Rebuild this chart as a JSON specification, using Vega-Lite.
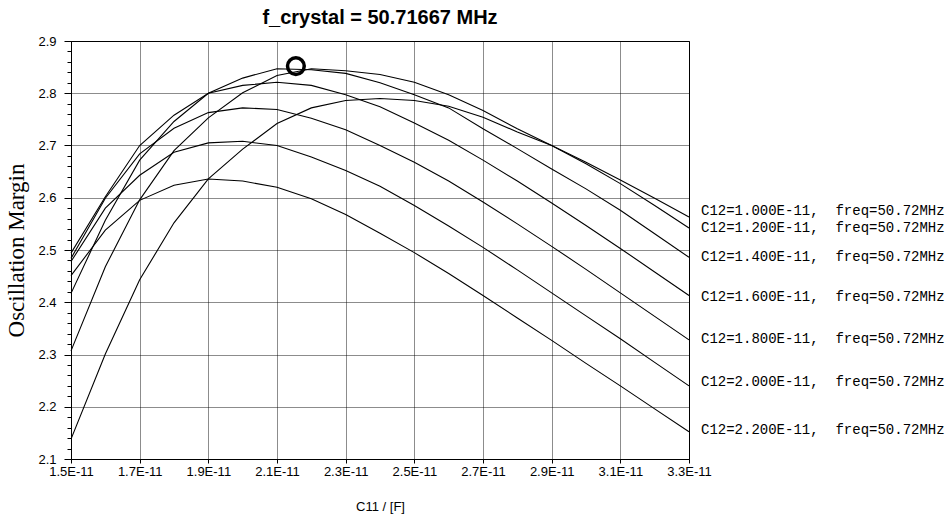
{
"$schema": "https://vega.github.io/schema/vega-lite/v6.json",
"width": 618, "height": 418,
"autosize": {"type": "none"},
"padding": {"left": 71, "top": 41, "right": 257, "bottom": 59},
"background": "white",
"title": {"text": "f_crystal = 50.71667 MHz", "font": "Liberation Sans", "fontSize": 20, "fontWeight": "bold", "color": "black", "anchor": "middle", "offset": 7},
"config": {
  "view": {"stroke": "black", "strokeWidth": 1},
  "axis": {"labelFont": "Liberation Sans", "labelFontSize": 13, "labelColor": "black", "domainColor": "black", "tickColor": "black", "gridColor": "black", "gridDash": [1, 1], "gridOpacity": 0.9, "titleColor": "black", "titleFontWeight": "normal"}
},
"datasets": {
"curves": [
{"c12":1.0,"c11":1.5,"m":2.138},{"c12":1.0,"c11":1.6,"m":2.301},{"c12":1.0,"c11":1.7,"m":2.443},{"c12":1.0,"c11":1.8,"m":2.552},{"c12":1.0,"c11":1.9,"m":2.636},{"c12":1.0,"c11":2.0,"m":2.693},{"c12":1.0,"c11":2.1,"m":2.742},{"c12":1.0,"c11":2.2,"m":2.772},{"c12":1.0,"c11":2.3,"m":2.786},{"c12":1.0,"c11":2.4,"m":2.790},{"c12":1.0,"c11":2.5,"m":2.786},{"c12":1.0,"c11":2.6,"m":2.775},{"c12":1.0,"c11":2.7,"m":2.754},{"c12":1.0,"c11":2.8,"m":2.726},{"c12":1.0,"c11":2.9,"m":2.700},{"c12":1.0,"c11":3.0,"m":2.668},{"c12":1.0,"c11":3.1,"m":2.634},{"c12":1.0,"c11":3.2,"m":2.599},{"c12":1.0,"c11":3.3,"m":2.563},
{"c12":1.2,"c11":1.5,"m":2.307},{"c12":1.2,"c11":1.6,"m":2.468},{"c12":1.2,"c11":1.7,"m":2.596},{"c12":1.2,"c11":1.8,"m":2.690},{"c12":1.2,"c11":1.9,"m":2.753},{"c12":1.2,"c11":2.0,"m":2.801},{"c12":1.2,"c11":2.1,"m":2.834},{"c12":1.2,"c11":2.2,"m":2.847},{"c12":1.2,"c11":2.3,"m":2.843},{"c12":1.2,"c11":2.4,"m":2.836},{"c12":1.2,"c11":2.5,"m":2.821},{"c12":1.2,"c11":2.6,"m":2.797},{"c12":1.2,"c11":2.7,"m":2.767},{"c12":1.2,"c11":2.8,"m":2.732},{"c12":1.2,"c11":2.9,"m":2.700},{"c12":1.2,"c11":3.0,"m":2.665},{"c12":1.2,"c11":3.1,"m":2.627},{"c12":1.2,"c11":3.2,"m":2.585},{"c12":1.2,"c11":3.3,"m":2.542},
{"c12":1.4,"c11":1.5,"m":2.417},{"c12":1.4,"c11":1.6,"m":2.557},{"c12":1.4,"c11":1.7,"m":2.672},{"c12":1.4,"c11":1.8,"m":2.746},{"c12":1.4,"c11":1.9,"m":2.800},{"c12":1.4,"c11":2.0,"m":2.829},{"c12":1.4,"c11":2.1,"m":2.847},{"c12":1.4,"c11":2.2,"m":2.845},{"c12":1.4,"c11":2.3,"m":2.838},{"c12":1.4,"c11":2.4,"m":2.820},{"c12":1.4,"c11":2.5,"m":2.797},{"c12":1.4,"c11":2.6,"m":2.772},{"c12":1.4,"c11":2.7,"m":2.732},{"c12":1.4,"c11":2.8,"m":2.694},{"c12":1.4,"c11":2.9,"m":2.655},{"c12":1.4,"c11":3.0,"m":2.617},{"c12":1.4,"c11":3.1,"m":2.576},{"c12":1.4,"c11":3.2,"m":2.531},{"c12":1.4,"c11":3.3,"m":2.486},
{"c12":1.6,"c11":1.5,"m":2.494},{"c12":1.6,"c11":1.6,"m":2.602},{"c12":1.6,"c11":1.7,"m":2.700},{"c12":1.6,"c11":1.8,"m":2.758},{"c12":1.6,"c11":1.9,"m":2.800},{"c12":1.6,"c11":2.0,"m":2.815},{"c12":1.6,"c11":2.1,"m":2.821},{"c12":1.6,"c11":2.2,"m":2.815},{"c12":1.6,"c11":2.3,"m":2.797},{"c12":1.6,"c11":2.4,"m":2.774},{"c12":1.6,"c11":2.5,"m":2.743},{"c12":1.6,"c11":2.6,"m":2.710},{"c12":1.6,"c11":2.7,"m":2.672},{"c12":1.6,"c11":2.8,"m":2.632},{"c12":1.6,"c11":2.9,"m":2.590},{"c12":1.6,"c11":3.0,"m":2.547},{"c12":1.6,"c11":3.1,"m":2.503},{"c12":1.6,"c11":3.2,"m":2.458},{"c12":1.6,"c11":3.3,"m":2.413},
{"c12":1.8,"c11":1.5,"m":2.484},{"c12":1.8,"c11":1.6,"m":2.599},{"c12":1.8,"c11":1.7,"m":2.684},{"c12":1.8,"c11":1.8,"m":2.733},{"c12":1.8,"c11":1.9,"m":2.763},{"c12":1.8,"c11":2.0,"m":2.772},{"c12":1.8,"c11":2.1,"m":2.769},{"c12":1.8,"c11":2.2,"m":2.752},{"c12":1.8,"c11":2.3,"m":2.730},{"c12":1.8,"c11":2.4,"m":2.700},{"c12":1.8,"c11":2.5,"m":2.668},{"c12":1.8,"c11":2.6,"m":2.632},{"c12":1.8,"c11":2.7,"m":2.592},{"c12":1.8,"c11":2.8,"m":2.550},{"c12":1.8,"c11":2.9,"m":2.507},{"c12":1.8,"c11":3.0,"m":2.463},{"c12":1.8,"c11":3.1,"m":2.418},{"c12":1.8,"c11":3.2,"m":2.373},{"c12":1.8,"c11":3.3,"m":2.328},
{"c12":2.0,"c11":1.5,"m":2.478},{"c12":2.0,"c11":1.6,"m":2.580},{"c12":2.0,"c11":1.7,"m":2.643},{"c12":2.0,"c11":1.8,"m":2.687},{"c12":2.0,"c11":1.9,"m":2.705},{"c12":2.0,"c11":2.0,"m":2.708},{"c12":2.0,"c11":2.1,"m":2.700},{"c12":2.0,"c11":2.2,"m":2.678},{"c12":2.0,"c11":2.3,"m":2.652},{"c12":2.0,"c11":2.4,"m":2.622},{"c12":2.0,"c11":2.5,"m":2.585},{"c12":2.0,"c11":2.6,"m":2.546},{"c12":2.0,"c11":2.7,"m":2.505},{"c12":2.0,"c11":2.8,"m":2.462},{"c12":2.0,"c11":2.9,"m":2.418},{"c12":2.0,"c11":3.0,"m":2.374},{"c12":2.0,"c11":3.1,"m":2.330},{"c12":2.0,"c11":3.2,"m":2.285},{"c12":2.0,"c11":3.3,"m":2.240},
{"c12":2.2,"c11":1.5,"m":2.451},{"c12":2.2,"c11":1.6,"m":2.538},{"c12":2.2,"c11":1.7,"m":2.595},{"c12":2.2,"c11":1.8,"m":2.624},{"c12":2.2,"c11":1.9,"m":2.636},{"c12":2.2,"c11":2.0,"m":2.632},{"c12":2.2,"c11":2.1,"m":2.620},{"c12":2.2,"c11":2.2,"m":2.598},{"c12":2.2,"c11":2.3,"m":2.568},{"c12":2.2,"c11":2.4,"m":2.532},{"c12":2.2,"c11":2.5,"m":2.495},{"c12":2.2,"c11":2.6,"m":2.455},{"c12":2.2,"c11":2.7,"m":2.413},{"c12":2.2,"c11":2.8,"m":2.370},{"c12":2.2,"c11":2.9,"m":2.327},{"c12":2.2,"c11":3.0,"m":2.283},{"c12":2.2,"c11":3.1,"m":2.240},{"c12":2.2,"c11":3.2,"m":2.196},{"c12":2.2,"c11":3.3,"m":2.152}
],
"peak": [{"c11": 2.155, "m": 2.852}],
"labels": [
{"c11":3.3,"m":2.574,"label":"C12=1.000E-11, \u00a0freq=50.72MHz"},
{"c11":3.3,"m":2.543,"label":"C12=1.200E-11, \u00a0freq=50.72MHz"},
{"c11":3.3,"m":2.487,"label":"C12=1.400E-11, \u00a0freq=50.72MHz"},
{"c11":3.3,"m":2.410,"label":"C12=1.600E-11, \u00a0freq=50.72MHz"},
{"c11":3.3,"m":2.329,"label":"C12=1.800E-11, \u00a0freq=50.72MHz"},
{"c11":3.3,"m":2.247,"label":"C12=2.000E-11, \u00a0freq=50.72MHz"},
{"c11":3.3,"m":2.156,"label":"C12=2.200E-11, \u00a0freq=50.72MHz"}
]
},
"layer": [
{
 "data": {"name": "curves"},
 "mark": {"type": "line", "color": "black", "strokeWidth": 1.1},
 "encoding": {
  "x": {"field": "c11", "type": "quantitative", "scale": {"domain": [1.5, 3.3], "nice": false, "zero": false},
        "axis": {"values": [1.5,1.7,1.9,2.1,2.3,2.5,2.7,2.9,3.1,3.3], "labelExpr": "format(datum.value, '.1f') + 'E-11'", "grid": true, "tickSize": 4, "labelPadding": 2, "title": "C11 / [F]", "titleFont": "Liberation Sans", "titleFontSize": 13, "titlePadding": 22, "labelFlush": false, "labelOverlap": false}},
  "y": {"field": "m", "type": "quantitative", "scale": {"domain": [2.1, 2.9], "nice": false, "zero": false},
        "axis": {"orient": "left", "values": [2.1,2.2,2.3,2.4,2.5,2.6,2.7,2.8,2.9], "format": ".1f", "grid": true, "tickSize": 7, "labelPadding": 8, "title": "Oscillation Margin", "titleFont": "Liberation Serif", "titleFontSize": 23, "titlePadding": 9, "labelFlush": false, "labelOverlap": false}},
  "detail": {"field": "c12", "type": "nominal"}
 }
},
{
 "data": {"name": "peak"},
 "mark": {"type": "point", "shape": "circle", "filled": false, "stroke": "black", "strokeWidth": 3.5, "size": 280, "opacity": 1},
 "encoding": {
  "x": {"field": "c11", "type": "quantitative", "scale": {"domain": [1.5, 3.3], "nice": false, "zero": false}},
  "y": {"field": "m", "type": "quantitative", "scale": {"domain": [2.1, 2.9], "nice": false, "zero": false},
        "axis": {"orient": "left", "values": [2.12,2.14,2.16,2.18,2.22,2.24,2.26,2.28,2.32,2.34,2.36,2.38,2.42,2.44,2.46,2.48,2.52,2.54,2.56,2.58,2.62,2.64,2.66,2.68,2.72,2.74,2.76,2.78,2.82,2.84,2.86,2.88], "labels": false, "grid": false, "domain": false, "tickSize": 4, "title": null}}
 }
},
{
 "data": {"name": "labels"},
 "mark": {"type": "text", "align": "left", "baseline": "middle", "dx": 12, "font": "Liberation Mono", "fontSize": 14, "color": "black"},
 "encoding": {
  "x": {"field": "c11", "type": "quantitative", "scale": {"domain": [1.5, 3.3], "nice": false, "zero": false}},
  "y": {"field": "m", "type": "quantitative", "scale": {"domain": [2.1, 2.9], "nice": false, "zero": false}, "axis": null},
  "text": {"field": "label", "type": "nominal"}
 }
}
],
"resolve": {"axis": {"y": "independent"}}
}
